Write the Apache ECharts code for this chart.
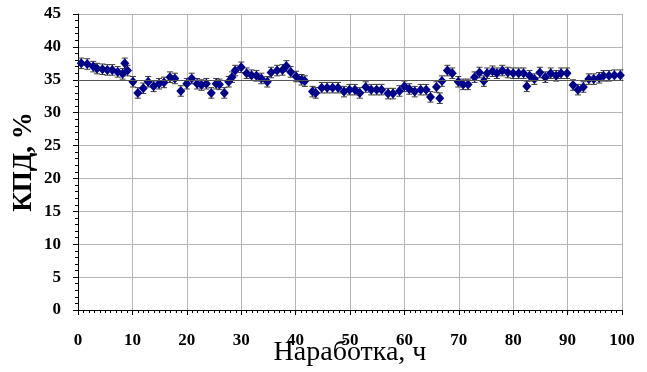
<!DOCTYPE html>
<html>
<head>
<meta charset="utf-8">
<script src="https://cdn.jsdelivr.net/npm/echarts@6/dist/echarts.min.js"></script>
<style>
  html, body { margin: 0; padding: 0; background: #fff; }
  #chart { width: 647px; height: 372px; }
</style>
</head>
<body>
<div id="chart"></div>
<script>
// Operating time, h
const hours = [
  0.6, 1.7, 2.8, 3.5, 4.5, 5.4, 6.3, 7.3, 8.2, 8.6, 9.1, 10.1, 11.0, 12.0, 12.9, 13.9,
  14.9, 15.8, 16.9, 17.8, 18.9, 20.0, 20.9, 21.9, 22.7, 23.6, 24.5, 25.4, 26.0, 26.9,
  27.7, 28.3, 28.9, 30.0, 31.0, 31.9, 32.8, 33.7, 34.8, 35.5, 36.6, 37.6, 38.3, 39.1,
  40.1, 41.1, 41.7, 43.1, 43.7, 44.8, 45.8, 46.8, 47.8, 48.9, 49.9, 50.9, 51.8, 52.9,
  53.9, 54.9, 55.8, 57.0, 57.9, 59.1, 60.0, 60.9, 61.9, 63.0, 64.0, 64.8, 65.9, 66.5,
  66.9, 67.9, 68.8, 69.9, 70.8, 71.7, 72.9, 73.8, 74.6, 75.2, 76.2, 77.0, 78.0, 79.0,
  80.0, 81.0, 81.9, 82.5, 83.0, 83.9, 84.9, 85.9, 86.9, 87.9, 88.8, 89.9, 91.0, 91.9,
  92.9, 93.9, 94.8, 95.8, 96.6, 97.6, 98.6, 99.7
];
// Efficiency, %
const efficiency = [
  37.5, 37.4, 37.0, 36.7, 36.6, 36.5, 36.5, 36.2, 35.9, 37.5, 36.4, 34.7, 33.0, 33.7, 34.7, 34.0,
  34.4, 34.6, 35.4, 35.2, 33.3, 34.4, 35.2, 34.4, 34.2, 34.4, 33.0, 34.4, 34.3, 33.0,
  34.7, 35.4, 36.4, 36.9, 36.0, 35.7, 35.6, 35.2, 34.7, 36.1, 36.4, 36.5, 37.1, 36.2,
  35.5, 35.0, 34.8, 33.2, 33.0, 33.8, 33.8, 33.8, 33.8, 33.2, 33.5, 33.5, 33.0, 33.9,
  33.5, 33.5, 33.5, 32.9, 32.9, 33.3, 34.0, 33.6, 33.2, 33.5, 33.5, 32.4, 33.9, 32.2,
  34.8, 36.4, 36.0, 34.7, 34.3, 34.3, 35.4, 36.1, 34.8, 36.0, 36.3, 36.0, 36.4, 36.1,
  36.0, 36.0, 36.0, 34.0, 35.6, 35.1, 36.1, 35.4, 36.0, 35.6, 36.0, 36.0, 34.2, 33.5,
  33.9, 35.1, 35.1, 35.3, 35.6, 35.6, 35.7, 35.7
];
// Measurement uncertainty (half-width of the error bar), %
const errorHalf = 0.8;
// Reference level, %
const referenceLevel = 35;

const xTitle = 'Наработка, ч';
const yTitle = 'КПД, %';

const points = hours.map((h, i) => [h, efficiency[i]]);
const bars = hours.map((h, i) => [h, efficiency[i] - errorHalf, efficiency[i] + errorHalf]);

const serif = '"Liberation Serif", "Times New Roman", serif';
const chart = echarts.init(document.getElementById('chart'), null, { renderer: 'canvas' });

chart.setOption({
  animation: false,
  backgroundColor: '#fff',
  grid: { left: 78, right: 25, top: 14, bottom: 62, containLabel: false, outerBoundsMode: 'none' },
  xAxis: {
    type: 'value', min: 0, max: 100, interval: 10,
    name: xTitle, nameLocation: 'middle', nameGap: 29, nameMoveOverlap: false,
    nameTextStyle: { fontFamily: serif, fontSize: 28, color: '#000' },
    axisLine: { show: true, onZero: false, lineStyle: { color: '#000', width: 1 } },
    axisTick: { show: true, length: 5, lineStyle: { color: '#000' } },
    minorTick: { show: true, splitNumber: 10, length: 3, lineStyle: { color: '#000' } },
    axisLabel: { fontFamily: serif, fontWeight: 'bold', fontSize: 17, color: '#000', margin: 22 },
    splitLine: { show: true, lineStyle: { color: '#b4b4b4', width: 1 } }
  },
  yAxis: {
    type: 'value', min: 0, max: 45, interval: 5,
    name: yTitle, nameLocation: 'middle', nameGap: 40, nameRotate: 90, nameMoveOverlap: false,
    nameTextStyle: { fontFamily: serif, fontWeight: 'bold', fontSize: 27, color: '#000' },
    axisLine: { show: true, onZero: false, lineStyle: { color: '#000', width: 1 } },
    axisTick: { show: true, length: 5, lineStyle: { color: '#000' } },
    minorTick: { show: true, splitNumber: 5, length: 3, lineStyle: { color: '#000' } },
    axisLabel: { fontFamily: serif, fontWeight: 'bold', fontSize: 17, color: '#000', margin: 17 },
    splitLine: { show: true, lineStyle: { color: '#b4b4b4', width: 1 } }
  },
  series: [
    {
      type: 'custom',
      name: 'errors',
      data: bars,
      z: 2,
      renderItem: function (params, api) {
        const x = api.value(0);
        const lo = api.coord([x, api.value(1)]);
        const hi = api.coord([x, api.value(2)]);
        const cap = 3;
        const style = { stroke: '#3a3a3a', lineWidth: 1 };
        return {
          type: 'group',
          children: [
            { type: 'line', shape: { x1: lo[0], y1: lo[1], x2: hi[0], y2: hi[1] }, style },
            { type: 'line', shape: { x1: lo[0] - cap, y1: lo[1], x2: lo[0] + cap, y2: lo[1] }, style },
            { type: 'line', shape: { x1: hi[0] - cap, y1: hi[1], x2: hi[0] + cap, y2: hi[1] }, style }
          ]
        };
      }
    },
    {
      type: 'scatter',
      name: 'КПД',
      data: points,
      symbol: 'diamond',
      symbolSize: [9, 10],
      z: 3,
      itemStyle: { color: '#00008b', opacity: 1 },
      markLine: {
        silent: true,
        symbol: 'none',
        label: { show: false },
        lineStyle: { color: '#555', width: 1, type: 'solid' },
        data: [{ yAxis: referenceLevel }]
      }
    }
  ]
});
</script>
</body>
</html>
